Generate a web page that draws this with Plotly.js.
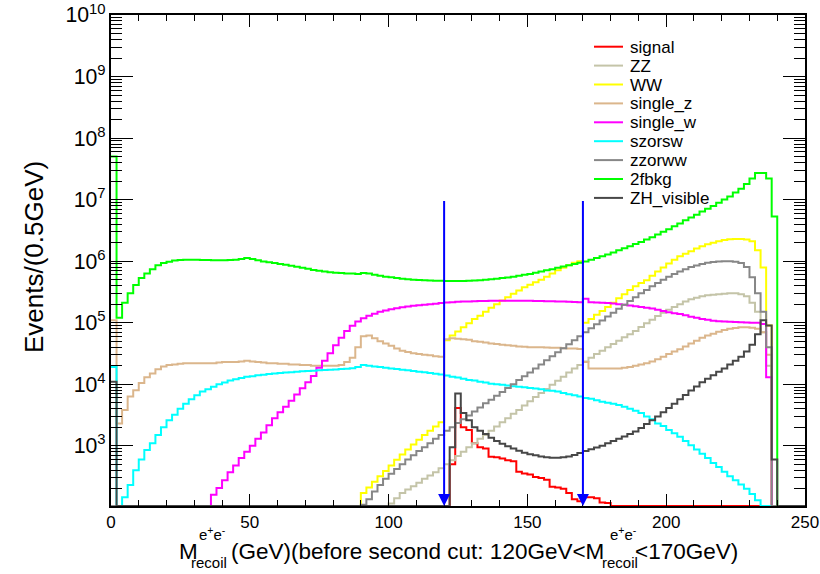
<!DOCTYPE html>
<html>
<head>
<meta charset="utf-8">
<script src="https://cdn.plot.ly/plotly-3.0.1.min.js"></script>
<style>
  html, body { margin: 0; padding: 0; background: #ffffff; }
  #plot { width: 820px; height: 574px; }
</style>
</head>
<body>
<div id="plot"></div>
<script>
// Recoil-mass histograms: 125 bins of 2 GeV between 0 and 250 GeV.
const binWidth = 2;
const nBins = 125;

const signal = [
  0,0,0,0,0,0,0,0,0,0, 0,0,0,0,0,0,0,0,0,0, 0,0,0,0,0,0,0,0,0,0,
  0,0,0,0,0,0,0,0,0,0, 0,0,0,0,0,0,0,0,0,0, 0,0,0,0,0,0,0,0,0,0,
  0,500,4100,2000,1800,1100,950,900,660,650, 620,580,560,380,355,340,310,300,280,215,
  210,200,170,135,125,145,145,140,120,117, 0,0,0,0,0,0,0,0,0,0,
  0,0,0,0,0,0,0,0,0,0, 0,0,0,0,0,0,0,0,0,0, 0,0,0,0,0
];

const zz = [
  0,0,0,0,0,0,0,0,0,0, 0,0,0,0,0,0,0,0,0,0, 0,0,0,0,0,0,0,0,0,0,
  0,0,0,0,0,0,0,0,0,0, 0,0,0,0,0,0,0,0,0,0,
  115,140,170,195,220,250,290,330,370,430,
  500,580,680,800,950,1100,1300,1500,1750,2050,
  2400,2800,3300,3800,4500,5300,6200,7200,8400,9800,
  11400,13200,15500,18000,20500,23500,27000,31000,35000,40000,
  45000,51000,58000,65000,73000,85000,98000,112000,128000,145000,
  162000,180000,200000,220000,240000,255000,270000,280000,285000,290000,
  295000,300000,300000,290000,270000,210000,150000,70000,20000,0,
  0,0,0,0,0
];

const ww = [
  0,0,0,0,0,0,0,0,0,0, 0,0,0,0,0,0,0,0,0,0, 0,0,0,0,0,0,0,0,0,0,
  0,0,0,0,0,0,0,0,0,0, 0,0,0,0,0,
  170,210,260,320,390,480,590,720,870,1050,1250,1500,1750,2050,2400,
  52000,62000,72000,84000,98000,115000,130000,150000,175000,200000,
  230000,260000,295000,335000,375000,415000,455000,500000,560000,630000,
  710000,780000,860000,940000,1000000,
  100000,115000,135000,155000,180000,210000,250000,290000,340000,390000,
  440000,490000,580000,680000,790000,920000,1050000,1200000,1320000,1450000,
  1600000,1750000,1880000,2000000,2100000,2200000,2280000,2300000,2300000,2250000,
  2100000,1500000,790000,90000,0,
  0,0,0,0,0
];

const singleZ = [
  110000,2300,3800,6300,8000,10500,13000,15000,17500,19500,
  20500,21000,21500,22000,22000,22000,22000,22000,22000,22500,
  23000,23000,23000,23500,24000,23500,23000,22500,22000,22000,
  21500,21500,21000,21000,20500,20500,20000,20000,20000,20000,
  20000,20500,23000,27000,40000,60000,62000,56000,50000,46000,
  42000,38000,35000,33500,32000,31000,30000,29500,28500,28000,
  54000,56000,55000,54000,53000,50000,49000,47500,46000,45000,
  44000,43000,42000,41000,40500,40000,40000,40000,39500,39000,
  39000,38500,38000,38000,37500,23000,18000,18000,18000,18000,
  18000,18000,18500,19000,20000,21000,22000,23500,25500,28000,
  31000,34000,37000,41000,46000,51000,57000,62000,66000,71000,
  76000,80000,82000,84000,84000,83000,80000,70000,30000,0,
  0,0,0,0,0
];

const singleW = [
  0,0,0,0,0,0,0,0,0,0, 0,0,0,0,0,0,0,0,
  160,205,275,370,480,630,800,1000,1300,1650,
  2150,2800,3500,4300,5400,6800,8600,10800,13600,18500,
  24000,32000,43000,57000,73000,89000,105000,118000,130000,140000,
  150000,158000,165000,172000,178000,183000,188000,192000,196000,200000,
  204000,208000,212000,215000,218000,220000,222000,224000,225000,226000,
  227000,228000,228000,228000,228000,228000,227000,227000,226000,225000,
  224000,223000,222000,220000,218000,216000,214000,245000,215000,212000,
  210000,208000,205000,200000,195000,190000,185000,180000,175000,170000,
  162000,155000,148000,142000,138000,132000,125000,120000,115000,112000,
  108000,106000,105000,104000,103000,102000,101000,100000,100000,95000,
  13000,0,0,0,0,0,0
];

const szorsw = [
  19000,0,145,230,400,600,850,1100,1500,2000,
  2600,3200,4000,4800,5700,6600,7600,8300,9100,10000,
  10700,11500,12000,12600,13200,13500,14000,14300,14600,15000,
  15200,15500,15700,16000,16200,16400,16600,16800,17000,17200,
  17400,17600,17800,18200,19000,20500,20000,19500,19000,18500,
  18000,17600,17200,16800,16400,16000,15600,15200,14800,14400,
  13800,13200,12900,12300,11700,11500,11000,10700,10200,10000,
  9800,9500,9300,9100,8900,8700,8500,8300,7900,7800,
  7600,7200,6900,6600,6300,6000,5800,5500,5200,5000,
  4800,4600,4300,4000,3700,3400,3000,2700,2300,2100,
  1800,1600,1400,1200,1020,870,740,630,525,450,
  380,320,275,235,200,165,130,0,0,0,
  0,0,0,0,0
];

const zzorww = [
  0,0,0,0,0,0,0,0,0,0, 0,0,0,0,0,0,0,0,0,0, 0,0,0,0,0,0,0,0,0,0,
  0,0,0,0,0,0,0,0,0,0, 0,0,0,0,0,
  110,135,180,230,290,350,420,500,600,700,820,950,1100,1300,1500,
  1750,2000,2350,2700,3100,3600,4200,4900,5600,6500,
  7500,8700,10000,11700,13500,15500,18000,21000,24500,28500,
  33000,38500,44500,52000,60000,70000,81000,94000,109000,126000,
  145000,168000,195000,225000,260000,300000,340000,390000,440000,500000,
  560000,620000,680000,740000,800000,850000,900000,940000,970000,990000,
  1000000,1000000,980000,930000,800000,550000,300000,150000,40000,0,
  0,0,0,0,0
];

const twoFermion = [
  50000000,120000,210000,300000,410000,530000,630000,740000,860000,930000,
  980000,1020000,1040000,1050000,1050000,1050000,1040000,1040000,1030000,1030000,
  1030000,1040000,1050000,1080000,1120000,1080000,1030000,990000,960000,930000,
  900000,870000,840000,810000,780000,750000,720000,700000,680000,660000,
  650000,640000,630000,630000,620000,640000,630000,600000,580000,560000,
  550000,530000,520000,510000,500000,495000,490000,485000,480000,480000,
  475000,475000,475000,475000,480000,485000,490000,500000,510000,520000,
  530000,540000,560000,580000,600000,620000,650000,680000,710000,740000,
  780000,820000,860000,900000,940000,990000,1050000,1120000,1200000,1280000,
  1380000,1500000,1620000,1750000,1900000,2050000,2250000,2450000,2700000,3000000,
  3300000,3700000,4100000,4600000,5100000,5700000,6400000,7100000,7900000,8900000,
  10000000,11200000,13000000,15000000,18000000,22000000,27000000,27000000,22000000,5300000,
  0,0,0,0,0
];

const zhVisible = [
  11000,0,0,0,0,0,0,0,0,0, 0,0,0,0,0,0,0,0,0,0, 0,0,0,0,0,0,0,0,0,0,
  0,0,0,0,0,0,0,0,0,0, 0,0,0,0,0,0,0,0,0,0, 0,0,0,0,0,0,0,0,0,0,
  0,950,7100,3400,2600,2000,1750,1550,1350,1200,
  1080,980,900,830,770,730,700,670,650,640,
  640,650,670,710,760,820,880,940,1000,1100,
  1200,1300,1420,1560,1700,1950,2250,2600,3000,3500,
  4100,4800,5700,6700,7900,9200,10800,12300,14000,16000,
  18000,21000,24000,28000,34000,44000,65000,110000,90000,600,
  0,0,0,0,0
];

const seriesValues = [signal, zz, ww, singleZ, singleW, szorsw, zzorww, twoFermion, zhVisible];
const seriesNames  = ['signal', 'ZZ', 'WW', 'single_z', 'single_w', 'szorsw', 'zzorww', '2fbkg', 'ZH_visible'];
const seriesColors = ['#ff0000', '#c4c4a8', '#ffff00', '#dbb68c', '#ff00ff', '#00ffff', '#878787', '#00ff00', '#474747'];

// Selection window marked by the two arrows
const cutLow = 120;
const cutHigh = 170;
const arrowTop = 1e7;

const yMin = 105;
const yMax = 1e10;

const edges = [];
for (let i = 0; i <= nBins; i++) edges.push(i * binWidth);

// Empty bins sit on the lower frame edge, as in a log-scale histogram
const traces = seriesValues.map((vals, k) => {
  const y = vals.map(v => (v > 0 ? v : yMin));
  y.push(y[y.length - 1]);
  return {
    x: edges,
    y: y,
    type: 'scatter',
    mode: 'lines',
    name: seriesNames[k],
    showlegend: false,
    line: { shape: 'hv', width: 2, color: seriesColors[k] },
    hoverinfo: 'skip'
  };
});

// plot frame in pixels
const L = 111, R = 15, T = 15, B = 68, W = 820, H = 574;
const PW = W - L - R, PH = H - T - B;
const px = x => (x - L) / PW;
const py = y => (H - B - y) / PH;

const font = 'Liberation Sans, Arial, Helvetica, sans-serif';

function label(text, x, y, size, extra) {
  return Object.assign({
    text: text, x: px(x), y: py(y), xref: 'paper', yref: 'paper',
    xanchor: 'left', yanchor: 'middle', showarrow: false,
    font: { family: font, size: size, color: '#000' }
  }, extra || {});
}

const annotations = [
  label('M', 177, 551, 22.5),
  label('e<sup>+</sup>e<sup>-</sup>', 197, 533, 15),
  label('recoil', 189, 562, 15),
  label('(GeV)(before second cut: 120GeV&lt;M', 229, 551, 22.5),
  label('e<sup>+</sup>e<sup>-</sup>', 608, 533, 15),
  label('recoil', 600, 562, 15),
  label('&lt;170GeV)', 633, 551, 22.5),
  label('Events/(0.5GeV)', 34, 257, 26, { xanchor: 'center', textangle: -90 })
];

[cutLow, cutHigh].forEach(c => {
  annotations.push({
    x: c, y: Math.log10(yMin), ax: c, ay: Math.log10(arrowTop),
    xref: 'x', yref: 'y', axref: 'x', ayref: 'y',
    text: '', showarrow: true, arrowhead: 2, arrowsize: 1.2,
    arrowwidth: 2, arrowcolor: '#0000ff', standoff: 0
  });
});

// Legend: one row per series, line sample followed by its name
const shapes = [];
const legendTop = 46.7, legendStep = 18.9;
seriesNames.forEach((name, k) => {
  const yRow = legendTop + k * legendStep;
  shapes.push({
    type: 'line', xref: 'paper', yref: 'paper',
    x0: px(594), x1: px(623), y0: py(yRow), y1: py(yRow),
    line: { color: seriesColors[k], width: 2 }
  });
  annotations.push(label(name, 628, yRow + 0.5, 17));
});

const layout = {
  width: W, height: H,
  margin: { l: L, r: R, t: T, b: B, pad: 0 },
  paper_bgcolor: '#ffffff',
  plot_bgcolor: '#ffffff',
  font: { family: font, color: '#000' },
  showlegend: false,
  xaxis: {
    range: [0, 250], tick0: 0, dtick: 50,
    showline: true, linewidth: 2, linecolor: '#000', mirror: 'ticks',
    ticks: 'inside', ticklen: 12, tickwidth: 1, tickcolor: '#000',
    showgrid: false, zeroline: false,
    tickfont: { family: font, size: 17, color: '#000' },
    minor: { ticks: 'inside', ticklen: 6, dtick: 10, tickwidth: 1, tickcolor: '#000', showgrid: false }
  },
  yaxis: {
    type: 'log', range: [Math.log10(yMin), Math.log10(yMax)], dtick: 1,
    exponentformat: 'power',
    showline: true, linewidth: 2, linecolor: '#000', mirror: 'ticks',
    ticks: 'inside', ticklen: 22, tickwidth: 1, tickcolor: '#000',
    showgrid: false, zeroline: false,
    tickfont: { family: font, size: 17, color: '#000' },
    minor: { ticks: 'inside', ticklen: 11, dtick: 'D1', tickwidth: 1, tickcolor: '#000', showgrid: false }
  },
  shapes: shapes,
  annotations: annotations
};

Plotly.newPlot('plot', traces, layout, { staticPlot: true, displayModeBar: false });
</script>
</body>
</html>
